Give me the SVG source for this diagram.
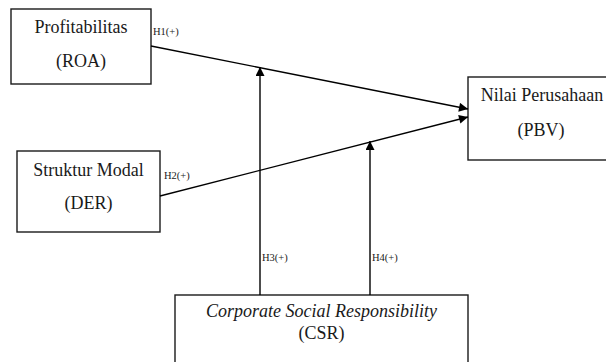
<svg xmlns="http://www.w3.org/2000/svg" width="606" height="362" viewBox="0 0 606 362">
<style>
.box{fill:#fff;stroke:#1a1a1a;stroke-width:1.4}
.t{font-family:"Liberation Serif","Times New Roman",serif;font-size:18px;fill:#1a1a1a}
.h{font-family:"Liberation Serif","Times New Roman",serif;font-size:10.5px;fill:#1a1a1a}
.c{stroke:#000;stroke-width:1.4;fill:none;marker-end:url(#arr)}
</style>
<defs>
<marker id="arr" viewBox="0 0 10 10" refX="10" refY="5" markerWidth="10" markerHeight="9" markerUnits="userSpaceOnUse" orient="auto">
<path d="M0,0 L10,5 L0,10 Z" fill="#000"/>
</marker>
</defs>
<rect width="606" height="362" fill="#fff"/>
<g id="roa">
<rect class="box" x="11" y="9" width="140" height="75"/>
<text class="t" x="81" y="33" text-anchor="middle">Profitabilitas</text>
<text class="t" x="81" y="67" text-anchor="middle">(ROA)</text>
</g>
<g id="der">
<rect class="box" x="17" y="151" width="143" height="81"/>
<text class="t" x="88.5" y="176" text-anchor="middle">Struktur Modal</text>
<text class="t" x="88.5" y="209" text-anchor="middle">(DER)</text>
</g>
<g id="pbv">
<rect class="box" x="468" y="77" width="150" height="83"/>
<text class="t" x="542" y="101" text-anchor="middle">Nilai Perusahaan</text>
<text class="t" x="541" y="136" text-anchor="middle">(PBV)</text>
</g>
<g id="csr">
<rect class="box" x="175" y="295" width="293" height="80"/>
<text class="t" x="321.5" y="317" text-anchor="middle" font-style="italic">Corporate Social Responsibility</text>
<text class="t" x="321.5" y="339" text-anchor="middle">(CSR)</text>
</g>
<g id="connectors">
<line class="c" x1="151" y1="46" x2="468" y2="109"/>
<line class="c" x1="160" y1="196" x2="468" y2="117"/>
<line class="c" x1="260" y1="295" x2="260" y2="67"/>
<line class="c" x1="370" y1="295" x2="370" y2="141"/>
<text class="h" x="153" y="35">H1(+)</text>
<text class="h" x="164" y="179">H2(+)</text>
<text class="h" x="262" y="261">H3(+)</text>
<text class="h" x="372" y="261">H4(+)</text>
</g>
</svg>
